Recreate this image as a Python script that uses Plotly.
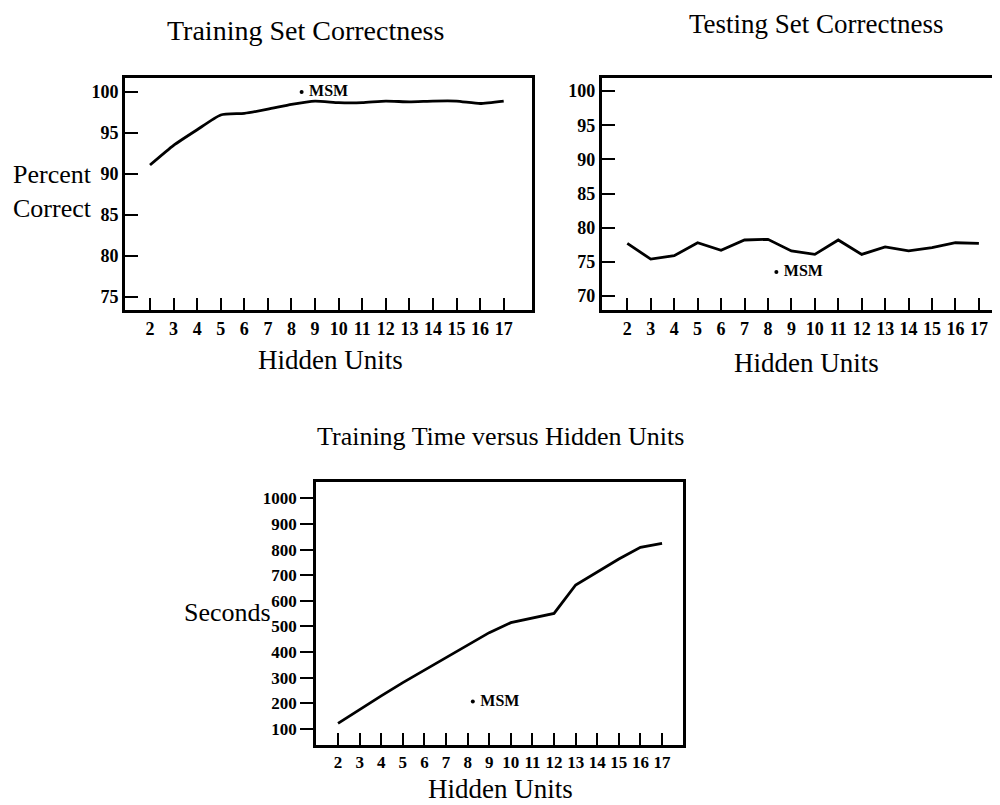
import plotly.graph_objects as go

hidden_units = list(range(2, 18))

train_correct = [91.1, 93.5, 95.4, 97.2, 97.4, 97.9, 98.5, 98.9, 98.7, 98.7,
                 98.9, 98.8, 98.9, 98.9, 98.6, 98.9]
test_correct = [77.7, 75.4, 75.9, 77.8, 76.7, 78.2, 78.3, 76.6, 76.1, 78.2,
                76.1, 77.2, 76.6, 77.1, 77.8, 77.7]
train_seconds = [122, 177, 229, 281, 330, 380, 430, 476, 515, 532,
                 551, 662, 714, 763, 809, 824]

msm_units = [8.43, 8.36, 8.24]
msm_train = 100.0
msm_test = 73.5
msm_seconds = 207

pct_ticks = [75, 80, 85, 90, 95, 100]
pct_ticks_test = [70, 75, 80, 85, 90, 95, 100]
sec_ticks = list(range(100, 1001, 100))

SERIF = "Liberation Serif"
# the page body adds an 8px margin, so the figure is 8px smaller and every
# position below is given in window pixels and shifted back by 8
OFF = 8
W, H = 1000 - OFF, 805 - OFF


def px(x, y):
    return (x - OFF) / W, 1 - (y - OFF) / H


def xdom(left, right):
    return [max(0, (left - OFF) / W), min(1, (right - OFF) / W)]


def ydom(top, bottom):
    return [1 - (bottom - OFF) / H, 1 - (top - OFF) / H]


fig = go.Figure()

line = dict(color="black", width=2.8)
tick_font = dict(family=SERIF, size=18, color="black", weight="bold")
tick_font_small = dict(family=SERIF, size=17, color="black", weight="bold")
msm_font = dict(family=SERIF, size=16, color="black", weight="bold")
msm_text = ["\u00a0MSM"]

# training set correctness
fig.add_trace(go.Scatter(x=hidden_units, y=train_correct, mode="lines",
                         line=dict(color="black", width=2.8, shape="spline", smoothing=0.5),
                         xaxis="x", yaxis="y"))
fig.add_trace(go.Scatter(x=[msm_units[0]], y=[msm_train], mode="markers+text",
                         marker=dict(color="black", size=4), text=msm_text,
                         textposition="middle right", textfont=msm_font,
                         xaxis="x", yaxis="y"))

# testing set correctness
fig.add_trace(go.Scatter(x=hidden_units, y=test_correct, mode="lines", line=line,
                         xaxis="x2", yaxis="y2"))
fig.add_trace(go.Scatter(x=[msm_units[1]], y=[msm_test], mode="markers+text",
                         marker=dict(color="black", size=4), text=msm_text,
                         textposition="middle right", textfont=msm_font,
                         xaxis="x2", yaxis="y2"))

# training time
fig.add_trace(go.Scatter(x=hidden_units, y=train_seconds, mode="lines", line=line,
                         xaxis="x3", yaxis="y3"))
fig.add_trace(go.Scatter(x=[msm_units[2]], y=[msm_seconds], mode="markers+text",
                         marker=dict(color="black", size=4), text=msm_text,
                         textposition="middle right", textfont=msm_font,
                         xaxis="x3", yaxis="y3"))

xcommon = dict(tickvals=hidden_units, ticks="inside", ticklen=12, tickwidth=1.5,
               tickcolor="black", tickfont=tick_font, showgrid=False, zeroline=False,
               showline=True, linecolor="black", linewidth=2.8)
ycommon = dict(ticks="inside", ticklen=13, tickwidth=2, tickcolor="black",
               tickfont=tick_font, showgrid=False, zeroline=False,
               showline=True, linecolor="black", linewidth=2.8)

fig.update_layout(
    width=W, height=H,
    margin=dict(l=0, r=0, t=0, b=0),
    paper_bgcolor="white", plot_bgcolor="white",
    showlegend=False,
    xaxis=dict(xcommon, domain=xdom(125, 532), range=[0.94, 18.2], mirror=True, anchor="y"),
    yaxis=dict(ycommon, domain=ydom(78, 310), range=[73.41, 101.71], tickvals=pct_ticks,
               mirror=True, anchor="x"),
    xaxis2=dict(xcommon, domain=xdom(601.7, 1000), range=[0.908, 17.9], mirror=True,
                anchor="y2"),
    yaxis2=dict(ycommon, domain=ydom(77.5, 310), range=[67.95, 102.0], tickvals=pct_ticks_test,
                anchor="x2"),
    xaxis3=dict(xcommon, domain=xdom(316, 683), range=[0.98, 17.97], mirror=True, anchor="y3",
                tickfont=tick_font_small),
    yaxis3=dict(ycommon, domain=ydom(482, 745), range=[37.6, 1063.6], tickvals=sec_ticks,
                ticks="outside", ticklen=13, mirror=True, anchor="x3",
                tickfont=tick_font_small),
)

title_font = dict(family=SERIF, size=28, color="black")
units_font = dict(family=SERIF, size=27, color="black")
label_font = dict(family=SERIF, size=26, color="black")
labels = [
    ("Training Set Correctness", 305, 31, title_font),
    ("Training Time versus Hidden Units", 500, 437, dict(title_font, size=26)),
    ("Hidden Units", 330, 360, units_font),
    ("Hidden Units", 806, 363, units_font),
    ("Hidden Units", 500, 789, units_font),
    ("Seconds", 227, 612, label_font),
]
for text, x, y, font in labels:
    ax, ay = px(x, y)
    fig.add_annotation(text=text, x=ax, y=ay, xref="paper", yref="paper",
                       xanchor="center", yanchor="middle", showarrow=False, font=font)

# top-right title sits against the top edge of the page
ax, _ = px(816, 0)
fig.add_annotation(text="Testing Set Correctness", x=ax, y=1.0, xref="paper", yref="paper",
                   xanchor="center", yanchor="top", showarrow=False, borderpad=0,
                   font=dict(title_font, size=27))

ax, ay = px(94, 192)
fig.add_annotation(text="Percent<br>Correct", x=ax, y=ay, xref="paper", yref="paper",
                   xanchor="right", yanchor="middle", align="right", showarrow=False,
                   font=label_font)

fig.write_html("out.html")
